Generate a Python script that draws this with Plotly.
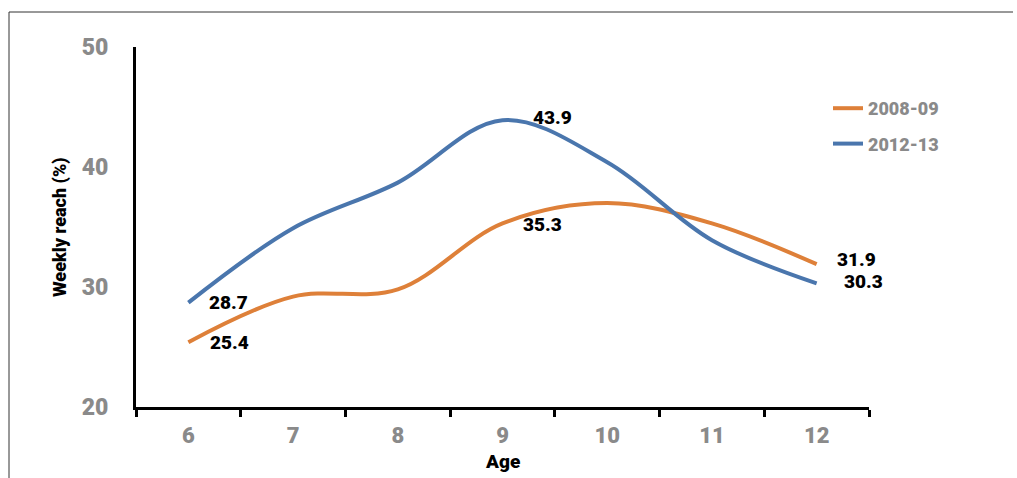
import plotly.graph_objects as go

# Weekly reach by age for two survey periods
ages = ["6", "7", "8", "9", "10", "11", "12"]
reach_2008 = [25.4, 29.2, 29.8, 35.3, 37.0, 35.3, 31.9]
reach_2012 = [28.7, 34.9, 38.7, 43.9, 40.4, 33.9, 30.3]
series_names = ["2008-09", "2012-13"]
y_ticks = [20, 30, 40, 50]

ORANGE = "#DE8039"
BLUE = "#4A76AD"
GREY = "#8A8A8A"
FONT = "Roboto"
HEAVY = 900

W, H = 1017, 478
L, R, T, B = 136, 148, 47, 71
PW, PH = W - L - R, H - T - B


def px_x(p):
    return (p - L) / PW


def px_y(p):
    return (H - B - p) / PH


fig = go.Figure()
for name, vals, col in [(series_names[0], reach_2008, ORANGE),
                        (series_names[1], reach_2012, BLUE)]:
    fig.add_trace(go.Scatter(
        x=ages, y=vals, name=name, mode="lines",
        line=dict(color=col, width=4, shape="spline", smoothing=1.0),
        legendgroup=name,
    ))

# value labels at the first, peak and last points (x given as category index)
labels = [
    (0, reach_2012[0], 40, 0),
    (0, reach_2008[0], 41, 0),
    (3, reach_2012[3], 50, 3),
    (3, reach_2008[3], 40, -1),
    (6, reach_2008[6], 40, 5),
    (6, reach_2012[6], 47, 2),
]
for i, y, dx, dy in labels:
    fig.add_annotation(
        x=i, y=y, xref="x", yref="y", text=f"{y:.1f}", showarrow=False,
        xshift=dx, yshift=dy, xanchor="center", yanchor="middle",
        font=dict(family=FONT, size=19, color="#000000", weight=HEAVY),
    )

# axis titles
fig.add_annotation(
    x=px_x(60), y=0.5, xref="paper", yref="paper", text="Weekly reach (%)",
    textangle=-90, showarrow=False, xanchor="center", yanchor="middle",
    font=dict(family=FONT, size=18, color="#000000", weight=HEAVY),
)
fig.add_annotation(
    x=px_x(502), y=px_y(462), xref="paper", yref="paper", text="Age",
    showarrow=False, xanchor="center", yanchor="middle",
    font=dict(family=FONT, size=19, color="#000000", weight=HEAVY),
)

# outer frame (top and left edges)
frame = dict(color="#333333", width=1)
fig.add_shape(type="line", xref="paper", yref="paper",
              x0=px_x(9), x1=px_x(1013), y0=px_y(12), y1=px_y(12), line=frame)
fig.add_shape(type="line", xref="paper", yref="paper",
              x0=px_x(9), x1=px_x(9), y0=px_y(12), y1=px_y(480), line=frame)

fig.update_xaxes(
    type="category", range=[-0.5, 6.5], tickson="boundaries",
    showline=True, linecolor="#000000", linewidth=3,
    ticks="outside", ticklen=7, tickwidth=3, tickcolor="#000000",
    showgrid=False, zeroline=False, ticklabelstandoff=7,
    tickfont=dict(family=FONT, size=22, color=GREY, weight=HEAVY),
)
fig.update_yaxes(
    range=[20, 50], tickvals=y_ticks, showline=True, linecolor="#000000",
    linewidth=3, ticks="", showgrid=False, zeroline=False,
    ticklabelstandoff=20,
    tickfont=dict(family=FONT, size=23, color=GREY, weight=HEAVY),
)

fig.update_layout(
    width=W, height=H, margin=dict(l=L, r=R, t=T, b=B),
    plot_bgcolor="white", paper_bgcolor="white",
    showlegend=True,
    legend=dict(
        x=px_x(828), y=px_y(90), xanchor="left", yanchor="top",
        traceorder="grouped", tracegroupgap=9,
        font=dict(family=FONT, size=18, color=GREY, weight=HEAVY),
        bgcolor="rgba(0,0,0,0)",
    ),
)

fig.write_html("out.html")
